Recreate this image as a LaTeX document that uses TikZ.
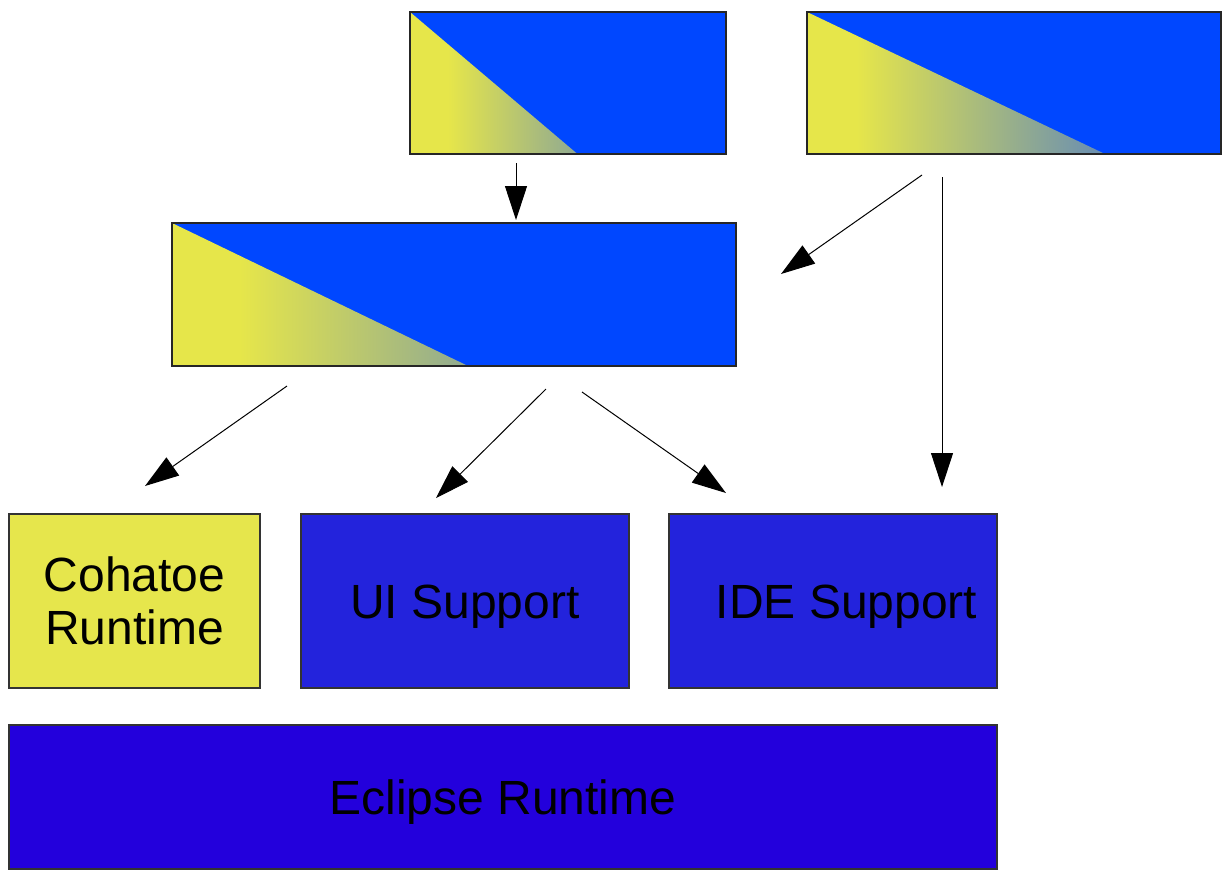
\documentclass[tikz,border=0pt]{standalone}
\usepackage{fontspec}
\setmainfont{Liberation Sans}
\usetikzlibrary{arrows.meta,calc}
\definecolor{gblue}{RGB}{0,71,255}
\definecolor{gyel}{RGB}{230,230,74}
\definecolor{tipc}{RGB}{45,100,228}
\definecolor{boxblue}{RGB}{35,35,220}
\definecolor{eclblue}{RGB}{35,0,220}
\definecolor{cohyel}{RGB}{230,230,76}
\pgfdeclarehorizontalshading{ramp}{100bp}{color(0bp)=(gyel); color(25bp)=(gyel); color(31bp)=(gyel); color(75bp)=(tipc); color(100bp)=(tipc)}
\tikzset{
  gradbox/.style={draw=black!85, line width=0.6pt, fill=gblue, inner sep=0pt, outer sep=0pt, anchor=north west,
    path picture={\shade[shading=ramp] (path picture bounding box.north west) -- (path picture bounding box.south west) -- ($(path picture bounding box.south west)!#1!(path picture bounding box.south east)$) -- cycle;}},
  solidbox/.style={draw=black!80, line width=0.6pt, inner sep=0pt, outer sep=0pt, anchor=north west,
    font=\fontsize{24pt}{26.5pt}\selectfont, text height=17pt, text depth=0pt, align=center},
  lbl/.style={inner sep=0pt, font=\fontsize{24pt}{26.5pt}\selectfont, text height=17pt, text depth=0pt},
  mlbl/.style={inner sep=0pt, font=\fontsize{24pt}{26.5pt}\selectfont, align=center},
  arr/.style={line width=0.5pt, draw=black, -{Triangle[length=17pt,width=11pt]}}
}
\begin{document}
\begin{tikzpicture}[x=0.5pt,y=-0.5pt]
\useasboundingbox (0,0) rectangle (1230,874);
% gradient boxes
\node[gradbox=0.53, minimum width=158pt, minimum height=71pt] (top1) at (410,12) {};
\node[gradbox=0.72, minimum width=207pt, minimum height=71pt] (top2) at (807,12) {};
\node[gradbox=0.525, minimum width=282pt, minimum height=71.5pt] (mid) at (172,223) {};
% bottom boxes
\node[solidbox, fill=cohyel, minimum width=125.5pt, minimum height=87pt] (coh) at (9,514) {};
\node[mlbl] (cohlabel) at (coh.center) {Cohatoe\\Runtime};
\node[solidbox, fill=boxblue, minimum width=164pt, minimum height=87pt] (ui) at (301,514) {UI Support};
\node[solidbox, fill=boxblue, minimum width=164pt, minimum height=87pt] (ide) at (669,514) {};
\node[lbl] (idelabel) at ($(ide.center)+(13.5,0)$) {IDE Support};
\node[solidbox, fill=eclblue, minimum width=494pt, minimum height=72pt] (ecl) at (9,725) {Eclipse Runtime};
% connector end points
\coordinate (a1s) at (516,163); \coordinate (a1e) at (516,220);
\coordinate (a2s) at (922,175); \coordinate (a2e) at (781,274);
\coordinate (a3s) at (942,177); \coordinate (a3e) at (942,487);
\coordinate (a4s) at (287,386); \coordinate (a4e) at (145,486);
\coordinate (a5s) at (546,389); \coordinate (a5e) at (436,498);
\coordinate (a6s) at (582,392); \coordinate (a6e) at (726,493);
\draw[arr] (a1s) -- (a1e);
\draw[arr] (a2s) -- (a2e);
\draw[arr] (a3s) -- (a3e);
\draw[arr] (a4s) -- (a4e);
\draw[arr] (a5s) -- (a5e);
\draw[arr] (a6s) -- (a6e);
\end{tikzpicture}
\end{document}
